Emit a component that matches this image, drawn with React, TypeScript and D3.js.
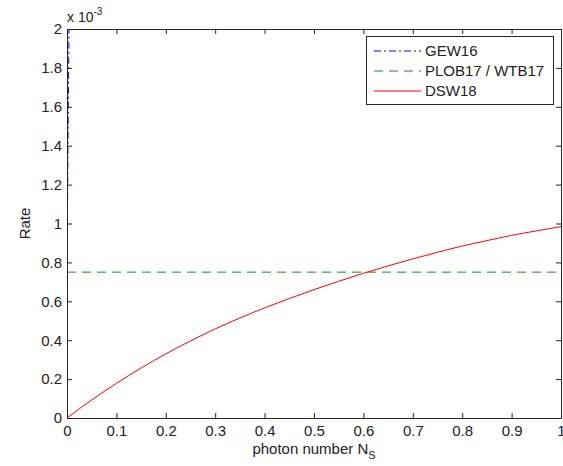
import React, { useRef, useEffect } from 'react';
import * as d3 from 'd3';

// photon number N_S
const nsValues = [0, 0.05, 0.1, 0.15, 0.2, 0.25, 0.3, 0.35, 0.4, 0.45, 0.5, 0.55, 0.6, 0.65, 0.7, 0.75, 0.8, 0.85, 0.9, 0.95, 1.0];
// DSW18 rate (x 1e-3)
const dsw18 = [0, 0.093, 0.178, 0.257, 0.33, 0.396, 0.458, 0.514, 0.566, 0.614, 0.66, 0.703, 0.744, 0.782, 0.818, 0.852, 0.884, 0.912, 0.939, 0.962, 0.984];
// GEW16 only lives very close to N_S = 0
const gewNs = [0.001, 0.0015, 0.002, 0.0025, 0.003, 0.0035, 0.004];
const gew16 = [1.05, 1.22, 1.4, 1.55, 1.7, 1.85, 2.0];
// PLOB17 / WTB17 bound (x 1e-3)
const plob = [0.75, 0.75];
const plobNs = [0, 1];

const xTicks = [0, 0.1, 0.2, 0.3, 0.4, 0.5, 0.6, 0.7, 0.8, 0.9, 1];
const yTicks = [0, 0.2, 0.4, 0.6, 0.8, 1, 1.2, 1.4, 1.6, 1.8, 2];

const legendItems = [
  { name: 'GEW16', color: '#0000ff', dash: '7,3,2,3' },
  { name: 'PLOB17 / WTB17', color: '#1a8a1a', dash: '9,6' },
  { name: 'DSW18', color: '#ff0000', dash: null },
];

const W = 563;
const H = 466;
const left = 67, right = 561, top = 29, bottom = 418;
const font = 'Liberation Sans, Arial, sans-serif';
const fs = 15;

const App = () => {
  const svgRef = useRef<SVGSVGElement>(null);

  useEffect(() => {
    const svg = d3.select(svgRef.current);
    svg.selectAll('*').remove();

    const x = d3.scaleLinear().domain([0, 1]).range([left, right]);
    const y = d3.scaleLinear().domain([0, 2]).range([bottom, top]);

    svg.append('rect').attr('width', W).attr('height', H).attr('fill', '#fff');

    const line = d3.line<[number, number]>()
      .x((d) => x(d[0]))
      .y((d) => y(d[1]));
    const smooth = d3.line<[number, number]>()
      .x((d) => x(d[0]))
      .y((d) => y(d[1]))
      .curve(d3.curveMonotoneX);

    const plot = svg.append('g');
    plot.append('path')
      .attr('d', line(plobNs.map((v, i) => [v, plob[i]])))
      .attr('fill', 'none').attr('stroke', legendItems[1].color)
      .attr('stroke-width', 1).attr('stroke-dasharray', legendItems[1].dash);
    plot.append('path')
      .attr('d', smooth(nsValues.map((v, i) => [v, dsw18[i]])))
      .attr('fill', 'none').attr('stroke', legendItems[2].color).attr('stroke-width', 1);
    plot.append('path')
      .attr('d', line(gewNs.map((v, i) => [v, gew16[i]])))
      .attr('fill', 'none').attr('stroke', legendItems[0].color)
      .attr('stroke-width', 1).attr('stroke-dasharray', legendItems[0].dash);

    // axes, MATLAB style: box with inward ticks on all sides
    const axColor = '#262626';
    svg.append('g')
      .attr('transform', `translate(0,${bottom})`)
      .call(d3.axisBottom(x).tickValues(xTicks).tickSizeInner(-5).tickSizeOuter(0).tickPadding(7).tickFormat(d3.format('~g')))
      .call((g) => g.select('.domain').attr('stroke', axColor))
      .call((g) => g.selectAll('line').attr('stroke', axColor));
    svg.append('g')
      .attr('transform', `translate(0,${top})`)
      .call(d3.axisTop(x).tickValues(xTicks).tickSizeInner(-5).tickSizeOuter(0).tickFormat(() => ''))
      .call((g) => g.select('.domain').attr('stroke', axColor))
      .call((g) => g.selectAll('line').attr('stroke', axColor));
    svg.append('g')
      .attr('transform', `translate(${left},0)`)
      .call(d3.axisLeft(y).tickValues(yTicks).tickSizeInner(-5).tickSizeOuter(0).tickPadding(5).tickFormat(d3.format('~g')))
      .call((g) => g.select('.domain').attr('stroke', axColor))
      .call((g) => g.selectAll('line').attr('stroke', axColor));
    svg.append('g')
      .attr('transform', `translate(${right},0)`)
      .call(d3.axisRight(y).tickValues(yTicks).tickSizeInner(-5).tickSizeOuter(0).tickFormat(() => ''))
      .call((g) => g.select('.domain').attr('stroke', axColor))
      .call((g) => g.selectAll('line').attr('stroke', axColor));

    svg.selectAll('.tick text')
      .attr('font-family', font).attr('font-size', fs).attr('fill', '#222');

    // exponent label
    const exp = svg.append('text').attr('x', left).attr('y', 22)
      .attr('font-family', font).attr('font-size', fs - 1).attr('fill', '#222');
    exp.append('tspan').text('x 10');
    exp.append('tspan').attr('dy', -7).attr('font-size', 10).text('-3');

    // axis labels
    svg.append('text')
      .attr('transform', `translate(30,${(top + bottom) / 2}) rotate(-90)`)
      .attr('text-anchor', 'middle')
      .attr('font-family', font).attr('font-size', fs).attr('fill', '#222')
      .text('Rate');
    const xl = svg.append('text')
      .attr('x', (left + right) / 2).attr('y', 454)
      .attr('text-anchor', 'middle')
      .attr('font-family', font).attr('font-size', fs).attr('fill', '#222');
    xl.append('tspan').text('photon number N');
    xl.append('tspan').attr('dy', 5).attr('font-size', 11).text('S');

    // legend
    const lg = svg.append('g');
    lg.append('rect')
      .attr('x', 366.5).attr('y', 36.5).attr('width', 187).attr('height', 68)
      .attr('fill', '#fff').attr('stroke', axColor);
    legendItems.forEach((d, i) => {
      const ly = 51 + i * 20;
      lg.append('line')
        .attr('x1', 374).attr('x2', 421).attr('y1', ly).attr('y2', ly)
        .attr('stroke', d.color).attr('stroke-dasharray', d.dash);
      lg.append('text')
        .attr('x', 425).attr('y', ly + 5)
        .attr('font-family', font).attr('font-size', fs).attr('fill', '#222')
        .text(d.name);
    });
  }, []);

  return (
    <svg ref={svgRef} width={W} height={H} style={{ position: 'absolute', left: 0, top: 0 }}></svg>
  );
};

export default App;
